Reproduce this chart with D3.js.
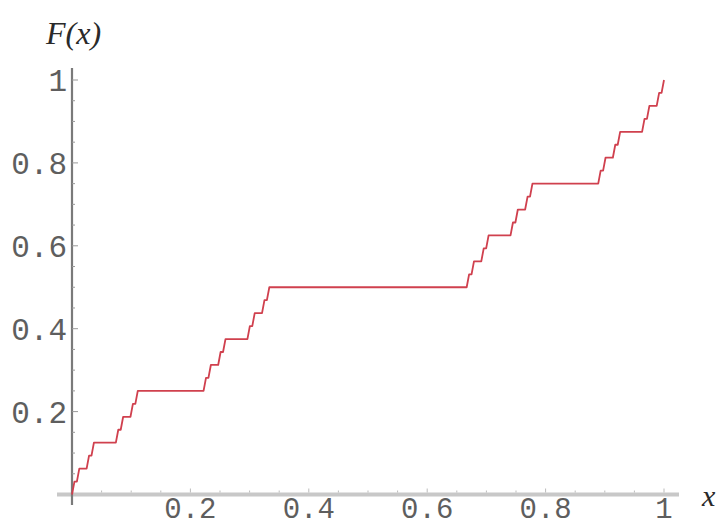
<!DOCTYPE html>
<html>
<head>
<meta charset="utf-8">
<script src="https://cdn.jsdelivr.net/npm/d3@7"></script>
<style>
  body { margin: 0; background: #fff; }
  .tick-label { font-family: "Liberation Mono", monospace; fill: #5e5e5e; }
  .axis-title { font-family: "Liberation Serif", serif; font-style: italic; fill: #2a2a2a; }
</style>
</head>
<body>
<svg id="chart" width="720" height="528"></svg>
<script>
// flat steps of the staircase, x in 243ths, level in 32nds
var flatStart = [1, 3, 7, 9, 19, 21, 25, 27, 55, 57, 61, 63, 73, 75, 79, 81,
  163, 165, 169, 171, 181, 183, 187, 189, 217, 219, 223, 225, 235, 237, 241];
var flatEnd = [2, 6, 8, 18, 20, 24, 26, 54, 56, 60, 62, 72, 74, 78, 80, 162,
  164, 168, 170, 180, 182, 186, 188, 216, 218, 222, 224, 234, 236, 240, 242];
var flatLevel = [1, 2, 3, 4, 5, 6, 7, 8, 9, 10, 11, 12, 13, 14, 15, 16,
  17, 18, 19, 20, 21, 22, 23, 24, 25, 26, 27, 28, 29, 30, 31];
var tickValues = [0.2, 0.4, 0.6, 0.8, 1];
var tickLabels = ['0.2', '0.4', '0.6', '0.8', '1'];

var svg = d3.select('#chart');
var x = d3.scaleLinear().domain([0, 1]).range([72, 664]);
var y = d3.scaleLinear().domain([0, 1]).range([494.5, 80]);

// build the polyline
var pts = [{x: 0, y: 0}];
for (let k = 0; k < flatLevel.length; k++) {
  pts.push({x: flatStart[k] / 243, y: flatLevel[k] / 32});
  pts.push({x: flatEnd[k] / 243, y: flatLevel[k] / 32});
}
pts.push({x: 1, y: 1});

// x axis
svg.append('line')
  .attr('x1', 57).attr('x2', 679)
  .attr('y1', y(0)).attr('y2', y(0))
  .style('stroke', '#c8c8c8')
  .style('stroke-width', 4);

var minor = d3.range(1, 21).map(d => d / 20);
svg.selectAll('line.xminor')
  .data(minor)
  .enter()
  .append('line')
  .attr('class', 'xminor')
  .attr('x1', d => x(d)).attr('x2', d => x(d))
  .attr('y1', y(0) - 2)
  .attr('y2', d => y(0) - (Math.round(d * 20) % 4 === 0 ? 6 : 4))
  .style('stroke', '#bbb')
  .style('stroke-width', 1);

// y axis
svg.append('line')
  .attr('x1', x(0)).attr('x2', x(0))
  .attr('y1', 68).attr('y2', 505)
  .style('stroke', '#7a7a7a')
  .style('stroke-width', 2.2);

svg.selectAll('line.yminor')
  .data(minor)
  .enter()
  .append('line')
  .attr('class', 'yminor')
  .attr('x1', x(0)).attr('x2', d => x(0) + (Math.round(d * 20) % 4 === 0 ? 6 : 3))
  .attr('y1', d => y(d)).attr('y2', d => y(d))
  .style('stroke', '#999')
  .style('stroke-width', 1);

// tick labels
svg.selectAll('text.ylab')
  .data(tickValues)
  .enter()
  .append('text')
  .attr('class', 'tick-label ylab')
  .attr('x', 67)
  .attr('y', d => y(d) + 11)
  .attr('text-anchor', 'end')
  .style('font-size', '31px')
  .text((d, i) => tickLabels[i]);

svg.selectAll('text.xlab')
  .data(tickValues)
  .enter()
  .append('text')
  .attr('class', 'tick-label xlab')
  .attr('x', d => x(d))
  .attr('y', 518)
  .attr('text-anchor', 'middle')
  .style('font-size', '29px')
  .text((d, i) => tickLabels[i]);

// axis titles
svg.append('text')
  .attr('class', 'axis-title')
  .attr('x', 46).attr('y', 44)
  .style('font-size', '32px')
  .text('F(x)');

svg.append('text')
  .attr('class', 'axis-title')
  .attr('x', 702).attr('y', 506)
  .style('font-size', '30px')
  .text('x');

// the curve
var line = d3.line().x(d => x(d.x)).y(d => y(d.y));
svg.append('path')
  .datum(pts)
  .attr('d', line)
  .style('fill', 'none')
  .style('stroke', '#d0404e')
  .style('stroke-width', 1.8)
  .style('stroke-linejoin', 'round');
</script>
</body>
</html>
